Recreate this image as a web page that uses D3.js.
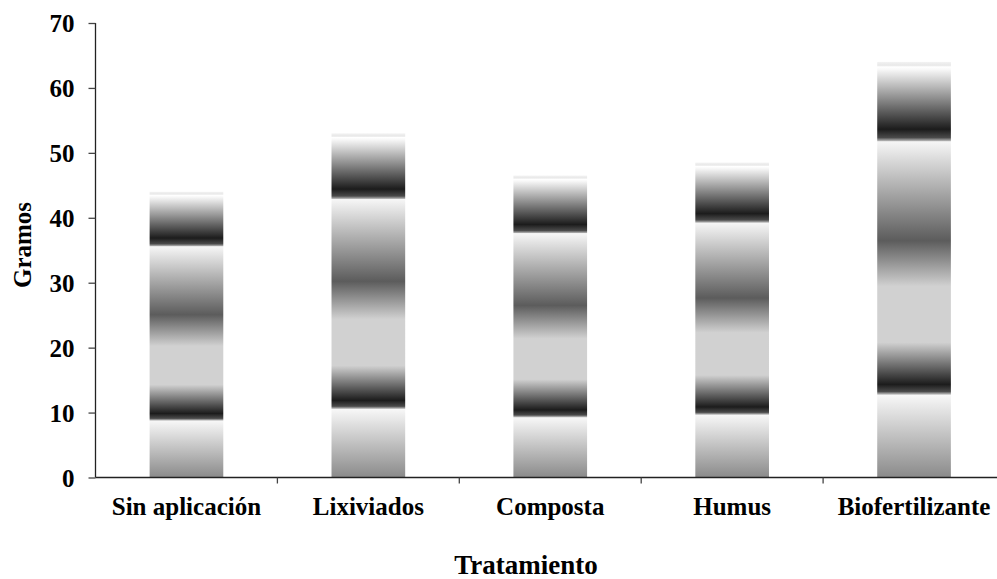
<!DOCTYPE html>
<html>
<head>
<meta charset="utf-8">
<script src="https://cdn.jsdelivr.net/npm/d3@7/dist/d3.min.js"></script>
<style>
  html, body { margin: 0; padding: 0; background: #fff; }
  svg { display: block; }
  text { font-family: "Liberation Serif", "Times New Roman", serif; font-weight: bold; fill: #000; }
</style>
</head>
<body>
<svg id="chart" width="997" height="579"></svg>
<script>
// Peso (gramos) por tratamiento
const categories = ["Sin aplicación", "Lixiviados", "Composta", "Humus", "Biofertilizante"];
const values = [44, 53, 46.5, 48.5, 64];
const yTicks = [0, 10, 20, 30, 40, 50, 60, 70];
const yTitle = "Gramos";
const xTitle = "Tratamiento";

const svg = d3.select("#chart");
const W = 997, H = 579;
const plotLeft = 95.5, plotBottom = 477.5, plotTop = 23;

const x = d3.scaleBand().domain(categories).range([plotLeft, 1005]).paddingInner(0).paddingOuter(0);
const y = d3.scaleLinear().domain([0, 70]).range([plotBottom, plotTop]);

// Banded grey fill, stretched over each bar from base to top
const defs = svg.append("defs");
const grad = defs.append("linearGradient")
  .attr("id", "barFill")
  .attr("x1", 0).attr("y1", 1).attr("x2", 0).attr("y2", 0);
const stops = [
  [0.000, "#8a8a8a"],
  [0.198, "#f7f7f7"],
  [0.201, "#b0b0b0"],
  [0.207, "#4a4a4a"],
  [0.224, "#1c1c1c"],
  [0.325, "#d1d1d1"],
  [0.460, "#d1d1d1"],
  [0.570, "#5c5c5c"],
  [0.808, "#f6f6f6"],
  [0.811, "#a8a8a8"],
  [0.818, "#4a4a4a"],
  [0.838, "#1c1c1c"],
  [0.982, "#f8f8f8"],
  [0.988, "#ffffff"],
  [0.992, "#e8e8e8"],
  [1.000, "#f2f2f2"]
];
stops.forEach(([o, c]) => grad.append("stop").attr("offset", o).attr("stop-color", c));

// Bars
const barW = x.bandwidth() * 0.405;
svg.append("g").selectAll("rect")
  .data(categories.map((c, i) => ({ c, v: values[i] })))
  .join("rect")
  .attr("x", d => x(d.c) + (x.bandwidth() - barW) / 2)
  .attr("width", barW)
  .attr("y", d => y(d.v))
  .attr("height", d => y(0) - y(d.v))
  .attr("fill", "url(#barFill)");

// Y axis
const yAxis = svg.append("g").attr("transform", `translate(${plotLeft},0)`)
  .call(d3.axisLeft(y).tickValues(yTicks).tickSize(7).tickPadding(14).tickFormat(d3.format("d")));
yAxis.select(".domain").attr("stroke", "#222").attr("stroke-width", 1.3).attr("d", `M0,${plotTop}V${plotBottom}`);
yAxis.selectAll(".tick line").attr("stroke", "#444").attr("stroke-width", 1.3);
yAxis.selectAll(".tick text").attr("font-size", 25).attr("dy", "0.34em")
  .style("font-family", "'Liberation Serif', serif").style("font-weight", "bold");

// X axis
const xAxis = svg.append("g").attr("transform", `translate(0,${plotBottom})`);
xAxis.append("line").attr("x1", plotLeft).attr("x2", W).attr("y1", 0).attr("y2", 0)
  .attr("stroke", "#222").attr("stroke-width", 1.3);
xAxis.selectAll("line.sep")
  .data(categories.slice(1))
  .join("line").attr("class", "sep")
  .attr("x1", d => x(d)).attr("x2", d => x(d))
  .attr("y1", 0).attr("y2", 6)
  .attr("stroke", "#444").attr("stroke-width", 1.3);
xAxis.selectAll("text.cat")
  .data(categories)
  .join("text").attr("class", "cat")
  .attr("x", d => x(d) + x.bandwidth() / 2)
  .attr("y", 37)
  .attr("text-anchor", "middle")
  .attr("font-size", 25)
  .text(d => d);

// Axis titles
svg.append("text")
  .attr("transform", "translate(31,245) rotate(-90)")
  .attr("text-anchor", "middle")
  .attr("font-size", 25)
  .text(yTitle);
svg.append("text")
  .attr("x", 526).attr("y", 574)
  .attr("text-anchor", "middle")
  .attr("font-size", 27)
  .text(xTitle);
</script>
</body>
</html>
